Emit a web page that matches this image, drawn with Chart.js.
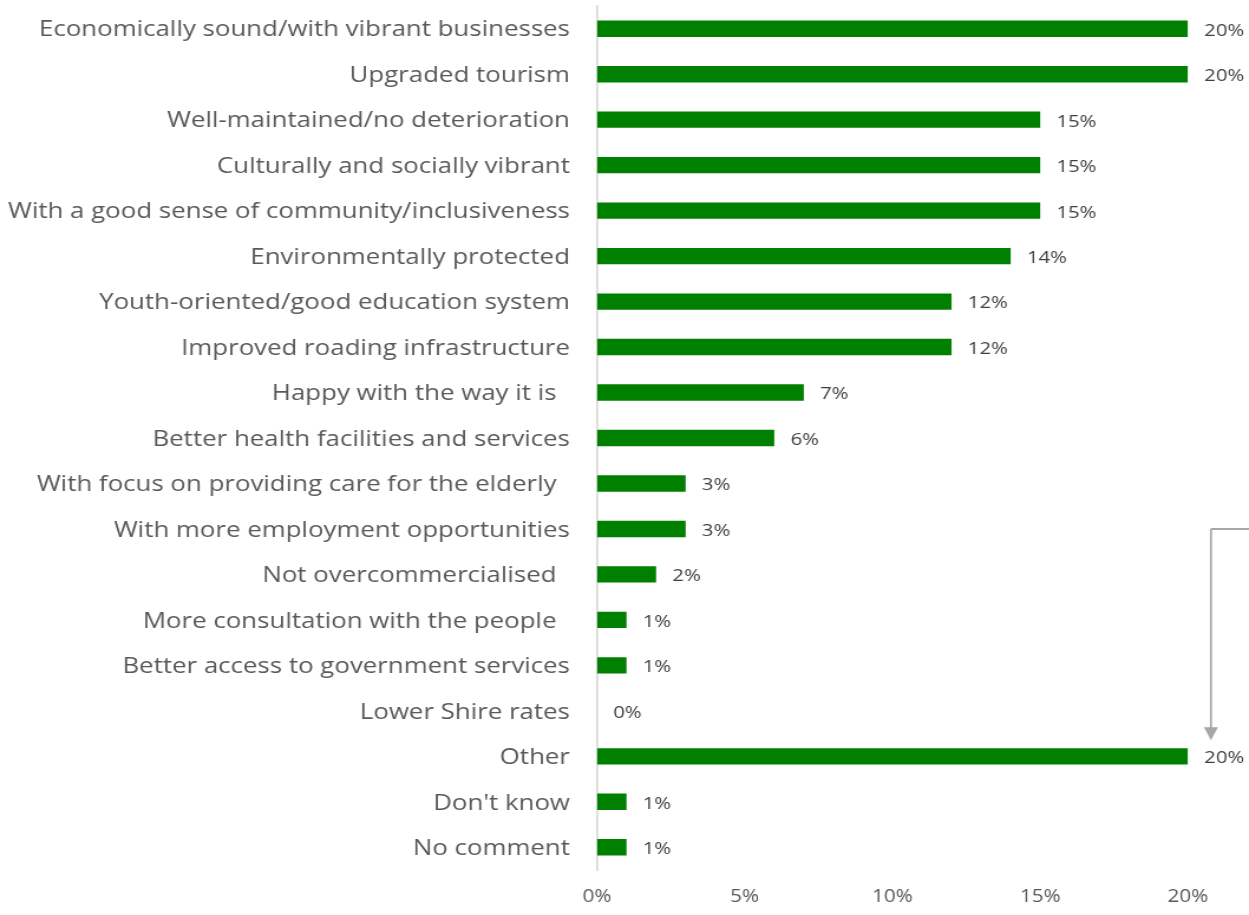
<!DOCTYPE html>
<html>
<head>
<meta charset="utf-8">
<script src="https://cdn.jsdelivr.net/npm/chart.js@4/dist/chart.umd.min.js"></script>
<style>
  html, body { margin: 0; padding: 0; background: #fff; overflow: hidden; }
  /* the chart is laid out on a narrower canvas and widened to the page */
  #wrap { width: 1058px; height: 915px; transform: scaleX(1.1805); transform-origin: 0 0; }
  #c { display: block; }
</style>
</head>
<body>
<div id="wrap"><canvas id="c" width="1058" height="915"></canvas></div>
<script>
// Survey responses: what respondents want the area to be like
const categories = [
  "Economically sound/with vibrant businesses",
  "Upgraded tourism",
  "Well-maintained/no deterioration",
  "Culturally and socially vibrant",
  "With a good sense of community/inclusiveness",
  "Environmentally protected",
  "Youth-oriented/good education system",
  "Improved roading infrastructure",
  "Happy with the way it is  ",
  "Better health facilities and services",
  "With focus on providing care for the elderly  ",
  "With more employment opportunities",
  "Not overcommercialised  ",
  "More consultation with the people  ",
  "Better access to government services",
  "Lower Shire rates",
  "Other",
  "Don't know",
  "No comment"
];
const shares = [20, 20, 15, 15, 15, 14, 12, 12, 7, 6, 3, 3, 2, 1, 1, 0, 20, 1, 1];
const xTicks = [0, 5, 10, 15, 20];

const FONT = "'Open Sans'";
const GREEN = "#008000";

// Percentage label at the end of each bar
const valueLabels = {
  id: "valueLabels",
  afterDatasetsDraw(chart) {
    const ctx = chart.ctx;
    const meta = chart.getDatasetMeta(0);
    ctx.save();
    ctx.font = "17.2px " + FONT;
    ctx.fillStyle = "#404040";
    ctx.textAlign = "left";
    ctx.textBaseline = "middle";
    meta.data.forEach((bar, i) => {
      ctx.fillText(shares[i] + "%", bar.x + 13.8, bar.y + 2);
    });
    ctx.restore();
  }
};

// Elbow connector pointing down to the "Other" bar
const connector = {
  id: "connector",
  afterDraw(chart) {
    const ctx = chart.ctx;
    const y = chart.scales.y;
    const x = chart.scales.x;
    const yStart = y.getPixelForValue(categories.indexOf("With more employment opportunities"));
    const yTip = y.getPixelForValue(categories.indexOf("Other")) - 16;
    const xv = x.getPixelForValue(20) + 19.5;
    ctx.save();
    ctx.strokeStyle = "#a6a6a6";
    ctx.fillStyle = "#a6a6a6";
    ctx.lineWidth = 2;
    ctx.beginPath();
    ctx.moveTo(chart.width, yStart);
    ctx.lineTo(xv, yStart);
    ctx.stroke();
    ctx.lineWidth = 1.7;
    ctx.beginPath();
    ctx.moveTo(xv, yStart);
    ctx.lineTo(xv, yTip - 11);
    ctx.stroke();
    ctx.beginPath();
    ctx.moveTo(xv - 5.9, yTip - 13);
    ctx.lineTo(xv + 5.9, yTip - 13);
    ctx.lineTo(xv, yTip);
    ctx.closePath();
    ctx.fill();
    ctx.restore();
  }
};

new Chart(document.getElementById("c"), {
  type: "bar",
  data: {
    labels: categories,
    datasets: [{
      data: shares,
      backgroundColor: GREEN,
      borderWidth: 0,
      barPercentage: 0.36,
      categoryPercentage: 1.0
    }]
  },
  options: {
    indexAxis: "y",
    responsive: false,
    animation: false,
    layout: { padding: { top: 6, right: 51.7, bottom: 0, left: 0 } },
    plugins: { legend: { display: false }, tooltip: { enabled: false } },
    scales: {
      x: {
        min: 0, max: 20,
        afterBuildTicks(scale) { scale.ticks = xTicks.map(v => ({ value: v })); },
        afterFit(scale) { scale.height = 45; scale.paddingLeft = 0; scale.paddingRight = 0; },
        grid: { display: false, drawTicks: false },
        border: { display: false },
        ticks: {
          padding: 17,
          color: "#595959",
          font: { family: FONT, size: 17.5 },
          callback: v => v + "%"
        }
      },
      y: {
        afterFit(scale) { scale.width = 505.7; scale.paddingTop = 0; scale.paddingBottom = 0; },
        grid: { display: false, drawTicks: false },
        border: { display: true, color: "#d9d9d9", width: 1.7 },
        ticks: {
          padding: 22.9,
          labelOffset: 1.5,
          color: "#595959",
          font: { family: FONT, size: 21.9 },
          autoSkip: false
        }
      }
    }
  },
  plugins: [valueLabels, connector]
});
</script>
</body>
</html>
